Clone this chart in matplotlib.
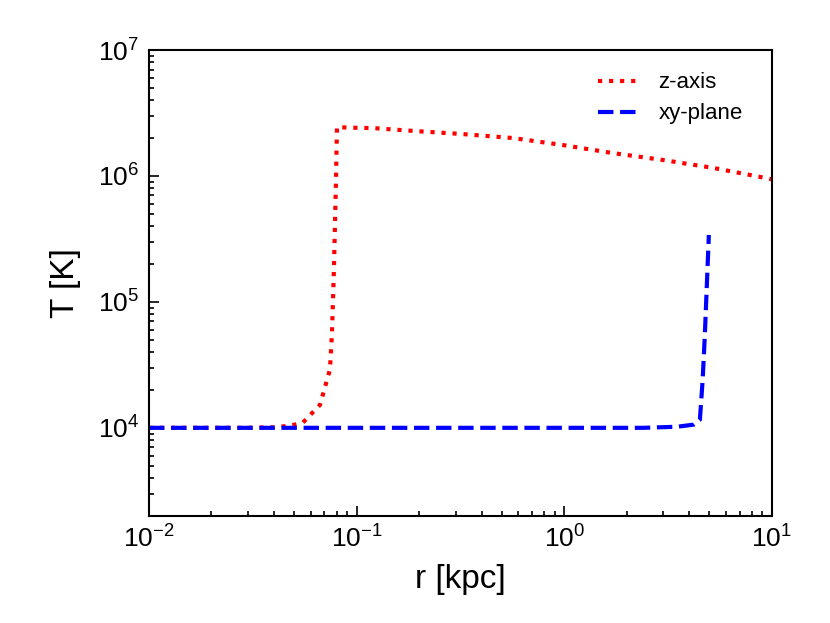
import matplotlib
matplotlib.use("Agg")
import matplotlib.pyplot as plt

# ======================================
# DATA
# ======================================

r_z = [0.01, 0.02, 0.03, 0.04, 0.048, 0.0551, 0.0666, 0.0744,
       0.0761, 0.0778, 0.0795, 0.0804, 0.0900, 0.1197, 0.1866,
       0.325, 0.566, 0.985, 1.71, 2.98, 5.19, 9.45, 10.0]
T_z = [1.0e4, 1.0e4, 1.0e4, 1.01e4, 1.04e4, 1.1e4, 1.52e4, 2.9e4,
       5.7e4, 1.9e5, 8.8e5, 2.45e6, 2.42e6, 2.40e6, 2.28e6,
       2.15e6, 2.0e6, 1.76e6, 1.52e6, 1.34e6, 1.16e6, 9.6e5, 9.4e5]

r_xy = [0.01, 0.1, 0.5, 1.0, 2.39, 3.5, 4.2, 4.5,
        4.64, 4.75, 4.97]
T_xy = [1.0e4, 1.0e4, 1.0e4, 1.0e4, 1.0e4, 1.02e4, 1.06e4, 1.16e4,
        2.4e4, 5.3e4, 3.4e5]

x_limits = (1e-2, 1e1)
y_limits = (2e3, 1e7)

# ======================================
# STYLE
# ======================================

plt.rcParams["font.family"] = ["Liberation Sans", "DejaVu Sans"]
plt.rcParams["mathtext.fontset"] = "custom"
plt.rcParams["mathtext.rm"] = "Liberation Sans"
plt.rcParams["mathtext.it"] = "Liberation Sans:italic"
plt.rcParams["axes.linewidth"] = 1.5

fig = plt.figure(figsize=(8.3, 6.23), dpi=100)
ax = fig.add_axes([0.1795, 0.172, 0.7505, 0.7477])

ax.plot(r_z, T_z, color="red", linestyle=":", linewidth=3,
        label="z-axis")
ax.plot(r_xy, T_xy, color="blue", linestyle="--", linewidth=3,
        label="xy-plane")

ax.set_xscale("log")
ax.set_yscale("log")
ax.set_xlim(*x_limits)
ax.set_ylim(*y_limits)

ax.tick_params(which="both", direction="in", top=False, right=False,
               labelsize=19, width=1.2)
ax.tick_params(which="major", length=7, pad=7)
ax.tick_params(which="minor", length=3.5)

ax.set_xlabel("r [kpc]", fontsize=24, labelpad=8)
ax.set_ylabel("T [K]", fontsize=24, labelpad=12)

ax.legend(loc="upper right", frameon=False, fontsize=16,
          handlelength=1.9, labelspacing=0.45,
          bbox_to_anchor=(0.985, 0.995))

fig.savefig("out.png", dpi=100)
